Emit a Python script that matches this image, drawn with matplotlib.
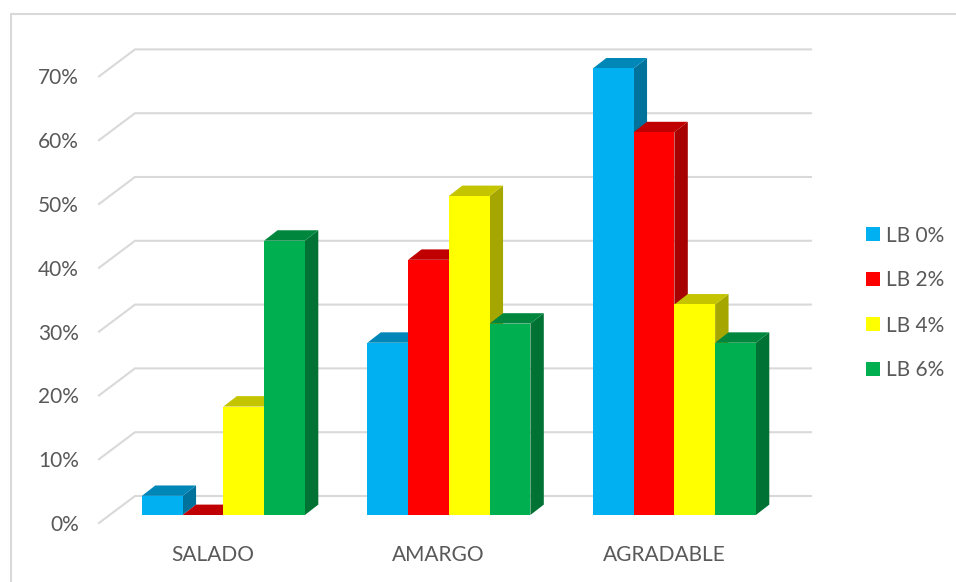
import numpy as np
import matplotlib
matplotlib.use('agg')
import matplotlib.pyplot as plt
from matplotlib.patches import Patch, Polygon
from matplotlib.lines import Line2D

categories = ['SALADO', 'AMARGO', 'AGRADABLE']
series_names = ['LB 0%', 'LB 2%', 'LB 4%', 'LB 6%']
lb0 = [3, 27, 70]
lb2 = [0, 40, 60]
lb4 = [17, 50, 33]
lb6 = [43, 30, 27]
y_ticks = [0, 10, 20, 30, 40, 50, 60, 70]

front_colors = ['#00B0F0', '#FF0000', '#FFFF00', '#00B050']
top_colors = ['#0087B8', '#C00000', '#C4C400', '#00873D']
side_colors = ['#00729C', '#A60000', '#A6A600', '#007234']
grid_color = '#D9D9D9'
text_color = '#595959'

W, H = 956, 582
plt.rcParams['font.family'] = ['Lato', 'DejaVu Sans']

fig = plt.figure(figsize=(W / 100, H / 100), dpi=100)
ax = fig.add_axes([0, 0, 1, 1])

# scales: one x unit is one category, y is in percent
x_unit = 225.5
y_unit = 6.38
x0_px = 223.4
y0_px = 515
ax.set_xlim(-x0_px / x_unit, (W - x0_px) / x_unit)
ax.set_ylim((y0_px - H) / y_unit, y0_px / y_unit)
ax.axis('off')

bar_w = 40.75 / x_unit
depth_x = 13.4 / x_unit
depth_y = 10.4 / y_unit

# back wall and left wall sit a bit apart from the bars
wall_back_x = (135 - x0_px) / x_unit
wall_front_x = (99 - x0_px) / x_unit
wall_right_x = (811 - x0_px) / x_unit
wall_back_y = 19 / y_unit
wall_front_y = -8 / y_unit

for v in y_ticks:
    ax.plot([wall_front_x, wall_back_x, wall_right_x],
            [v + wall_front_y, v + wall_back_y, v + wall_back_y],
            color=grid_color, lw=1.5, zorder=1, solid_joinstyle='miter')
    ax.text((79 - x0_px) / x_unit, v + wall_front_y, '%d%%' % v,
            ha='right', va='center_baseline', fontsize=15, color=text_color)

series = [lb0, lb2, lb4, lb6]
for i, values in enumerate(series):
    left = np.arange(len(categories)) + (i - 2) * bar_w
    for x, v in zip(left, values):
        side = Polygon([(x + bar_w, 0), (x + bar_w + depth_x, depth_y),
                        (x + bar_w + depth_x, v + depth_y), (x + bar_w, v)],
                       closed=True, fc=side_colors[i], ec='none', zorder=2 + i)
        top = Polygon([(x, v), (x + depth_x, v + depth_y),
                       (x + bar_w + depth_x, v + depth_y), (x + bar_w, v)],
                      closed=True, fc=top_colors[i], ec='none', zorder=2 + i)
        ax.add_patch(side)
        ax.add_patch(top)
    ax.bar(left, values, width=bar_w, align='edge', color=front_colors[i], zorder=2.5 + i)

for i, name in enumerate(categories):
    ax.text(i - 10.5 / x_unit, (y0_px - 553) / y_unit, name, ha='center', va='center_baseline',
            fontsize=15, color=text_color)

# chart frame, only the top and left edges fall inside the image
fig.add_artist(Line2D([1, 10.5 / W, 10.5 / W], [1 - 13.5 / H, 1 - 13.5 / H, 0],
                      color=grid_color, lw=1.5))

handles = [Patch(fc=c, ec='none') for c in front_colors]
fig.legend(handles, series_names, loc='center left', bbox_to_anchor=(866 / W, 1 - 303 / H),
           frameon=False, fontsize=15, labelcolor=text_color, handlelength=0.67,
           handleheight=0.67, handletextpad=0.3, labelspacing=1.2, borderpad=0, borderaxespad=0)

fig.savefig('out.png', dpi=100)
